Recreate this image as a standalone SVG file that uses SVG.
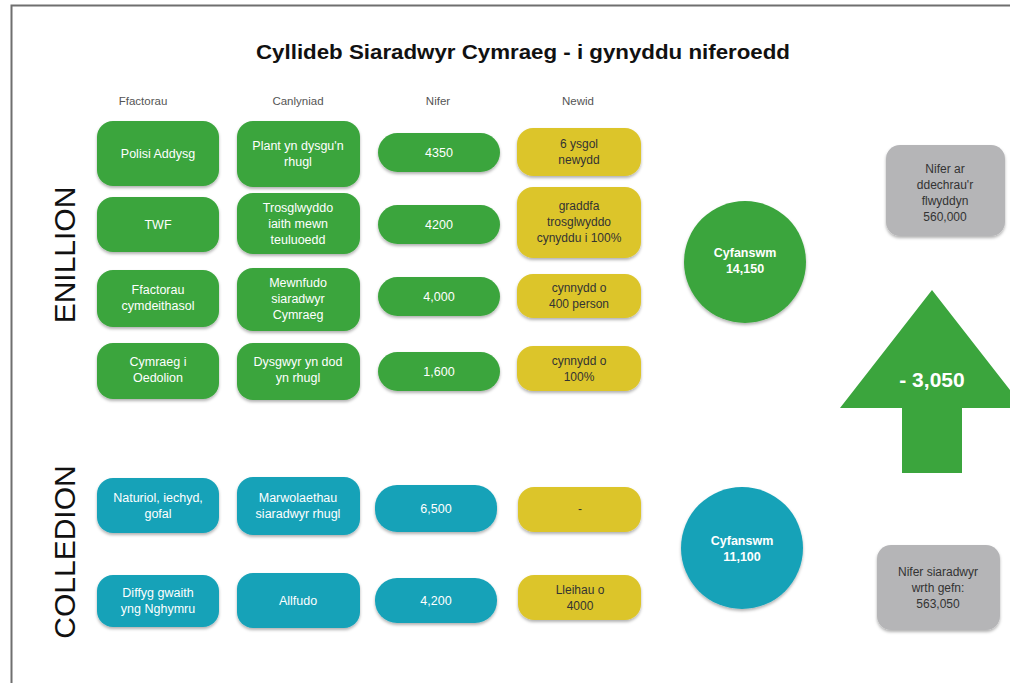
<svg xmlns="http://www.w3.org/2000/svg" width="1010" height="683" viewBox="0 0 1010 683">
<defs>
<filter id="sh" x="-10%" y="-10%" width="120%" height="130%">
<feDropShadow dx="0" dy="2" stdDeviation="1.5" flood-color="#000" flood-opacity="0.3"/>
</filter>
</defs>
<style>
.g{fill:#3ba53d;filter:url(#sh)}
.c{fill:#17a2b8;filter:url(#sh)}
.y{fill:#dcc52b;filter:url(#sh)}
.gr{fill:#b5b5b7;filter:url(#sh)}
text{font-family:"Liberation Sans",Arial,sans-serif;text-anchor:middle}
.w{fill:#fff;font-size:12.5px}
.k{fill:#333;font-size:12px}
.h{fill:#555;font-size:11.5px}
.side{fill:#111;font-size:30px}
</style>
<rect width="1010" height="683" fill="#fff"/>
<path d="M11.5 683 V5.5 H1010" fill="none" stroke="#6f6f6f" stroke-width="2"/>
<text x="523" y="59" textLength="534" lengthAdjust="spacingAndGlyphs" style="font-size:20px;font-weight:bold;fill:#111">Cyllideb Siaradwyr Cymraeg - i gynyddu niferoedd</text>
<g id="headers">
<text class="h" x="143" y="105">Ffactorau</text>
<text class="h" x="298" y="105">Canlyniad</text>
<text class="h" x="438" y="105">Nifer</text>
<text class="h" x="578" y="105">Newid</text>
</g>
<text class="side" transform="translate(75 255) rotate(-90)">ENILLION</text>
<text class="side" transform="translate(75 552) rotate(-90)">COLLEDION</text>

<g id="r1">
<rect class="g" x="97" y="121" width="122" height="65" rx="16"/>
<text class="w" x="158" y="158">Polisi Addysg</text>
<rect class="g" x="237" y="121" width="123" height="66" rx="16"/>
<text class="w" x="298" y="150">Plant yn dysgu'n</text><text class="w" x="298" y="166">rhugl</text>
<rect class="g" x="378" y="133" width="122" height="39" rx="19.5"/>
<text class="w" x="439" y="157">4350</text>
<rect class="y" x="517" y="128" width="124" height="48" rx="16"/>
<text class="k" x="579" y="148">6 ysgol</text><text class="k" x="579" y="164">newydd</text>
</g>
<g id="r2">
<rect class="g" x="97" y="197" width="122" height="55" rx="16"/>
<text class="w" x="158" y="229">TWF</text>
<rect class="g" x="237" y="193" width="123" height="61" rx="16"/>
<text class="w" x="298" y="212">Trosglwyddo</text><text class="w" x="298" y="228">iaith mewn</text><text class="w" x="298" y="244">teuluoedd</text>
<rect class="g" x="378" y="205" width="122" height="39" rx="19.5"/>
<text class="w" x="439" y="229">4200</text>
<rect class="y" x="517" y="187" width="124" height="71" rx="16"/>
<text class="k" x="579" y="210">graddfa</text><text class="k" x="579" y="226">trosglwyddo</text><text class="k" x="579" y="242">cynyddu i 100%</text>
</g>
<g id="r3">
<rect class="g" x="97" y="270" width="122" height="57" rx="16"/>
<text class="w" x="158" y="294">Ffactorau</text><text class="w" x="158" y="310">cymdeithasol</text>
<rect class="g" x="237" y="268" width="123" height="63" rx="16"/>
<text class="w" x="298" y="287">Mewnfudo</text><text class="w" x="298" y="303">siaradwyr</text><text class="w" x="298" y="319">Cymraeg</text>
<rect class="g" x="378" y="277" width="122" height="39" rx="19.5"/>
<text class="w" x="439" y="301">4,000</text>
<rect class="y" x="517" y="274" width="124" height="44" rx="16"/>
<text class="k" x="579" y="292">cynnydd o</text><text class="k" x="579" y="308">400 person</text>
</g>
<g id="r4">
<rect class="g" x="97" y="343" width="122" height="56" rx="16"/>
<text class="w" x="158" y="366">Cymraeg i</text><text class="w" x="158" y="382">Oedolion</text>
<rect class="g" x="237" y="343" width="123" height="57" rx="16"/>
<text class="w" x="298" y="366">Dysgwyr yn dod</text><text class="w" x="298" y="382">yn rhugl</text>
<rect class="g" x="378" y="352" width="122" height="39" rx="19.5"/>
<text class="w" x="439" y="376">1,600</text>
<rect class="y" x="517" y="346" width="124" height="45" rx="16"/>
<text class="k" x="579" y="365">cynnydd o</text><text class="k" x="579" y="381">100%</text>
</g>
<g id="r5">
<rect class="c" x="97" y="478" width="122" height="55" rx="16"/>
<text class="w" x="158" y="502">Naturiol, iechyd,</text><text class="w" x="158" y="518">gofal</text>
<rect class="c" x="237" y="477" width="123" height="58" rx="16"/>
<text class="w" x="298" y="502">Marwolaethau</text><text class="w" x="298" y="518">siaradwyr rhugl</text>
<rect class="c" x="375" y="485" width="122" height="47" rx="22"/>
<text class="w" x="436" y="513">6,500</text>
<rect class="y" x="518" y="487" width="123" height="45" rx="16"/>
<text class="k" x="580" y="513">-</text>
</g>
<g id="r6">
<rect class="c" x="97" y="575" width="122" height="52" rx="16"/>
<text class="w" x="158" y="597">Diffyg gwaith</text><text class="w" x="158" y="613">yng Nghymru</text>
<rect class="c" x="237" y="573" width="123" height="55" rx="16"/>
<text class="w" x="298" y="605">Allfudo</text>
<rect class="c" x="375" y="578" width="122" height="45" rx="22"/>
<text class="w" x="436" y="605">4,200</text>
<rect class="y" x="518" y="575" width="123" height="45" rx="16"/>
<text class="k" x="580" y="594">Lleihau o</text><text class="k" x="580" y="610">4000</text>
</g>
<g id="total-gain">
<circle class="g" cx="745" cy="262" r="61"/>
<text class="w" x="745" y="257" style="font-weight:bold">Cyfanswm</text><text class="w" x="745" y="273" style="font-weight:bold">14,150</text>
</g>
<g id="total-loss">
<circle class="c" cx="742" cy="548" r="61"/>
<text class="w" x="742" y="545" style="font-weight:bold">Cyfanswm</text><text class="w" x="742" y="561" style="font-weight:bold">11,100</text>
</g>
<g id="start">
<rect class="gr" x="886" y="145" width="119" height="91" rx="14"/>
<text class="k" x="945" y="173">Nifer ar</text><text class="k" x="945" y="189">ddechrau'r</text><text class="k" x="945" y="205">flwyddyn</text><text class="k" x="945" y="221">560,000</text>
</g>
<g id="end">
<rect class="gr" x="877" y="545" width="123" height="85" rx="14"/>
<text class="k" x="938" y="576">Nifer siaradwyr</text><text class="k" x="938" y="592">wrth gefn:</text><text class="k" x="938" y="608">563,050</text>
</g>
<g id="arrow">
<polygon points="932,290 1024,408 962,408 962,473 902,473 902,408 840,408" fill="#3ba53d"/>
<text x="932" y="387" style="fill:#fff;font-size:21px;font-weight:bold">- 3,050</text>
</g>
<g id="connectors"/>
</svg>
